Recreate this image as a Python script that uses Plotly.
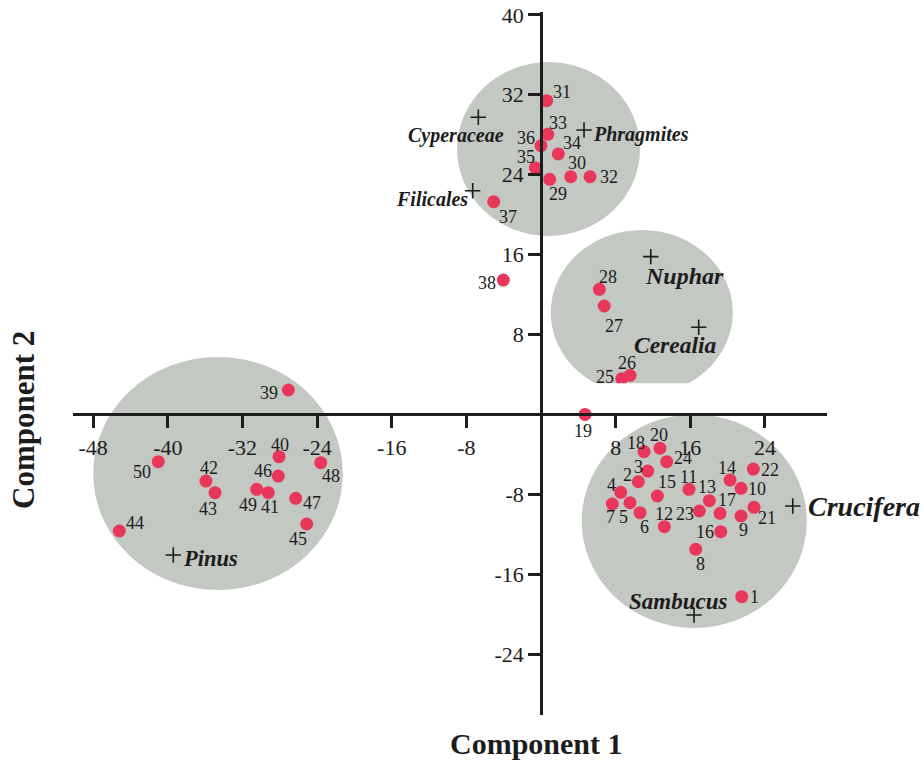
import plotly.graph_objects as go

# Sample scores on the first two principal components
sample_ids = list(range(1, 51))
comp1 = [21.51, 10.43, 11.44, 8.54, 9.54, 10.61, 7.64, 16.58, 21.44, 21.44,
         15.86, 13.22, 18.04, 20.26, 12.47, 19.26, 19.19, 11.04, 4.72, 12.75,
         22.83, 22.75, 16.97, 13.47, 8.65, 9.54, 6.78, 6.25, 0.93, 3.18,
         0.61, 5.25, 0.72, 1.85, -0.61, 0.0, -5.07, -4.04, -27.08, -28.08,
         -29.23, -35.91, -34.94, -45.20, -25.11, -28.16, -26.29, -23.61, -30.47, -41.02]
comp2 = [-18.25, -6.74, -5.67, -7.80, -8.84, -9.84, -8.97, -13.50, -10.17, -7.40,
         -7.50, -11.24, -8.64, -6.57, -8.17, -11.74, -9.90, -3.73, 0.0, -3.39,
         -9.30, -5.47, -9.67, -4.73, 3.57, 3.91, 10.85, 12.52, 23.53, 23.79,
         31.40, 23.79, 28.04, 26.07, 24.69, 26.90, 21.29, 13.45, 2.44, -4.23,
         -7.84, -6.67, -7.84, -11.67, -10.97, -6.17, -8.40, -4.83, -7.50, -4.73]

# Pollen taxa loadings
taxa = ["Cyperaceae", "Phragmites", "Filicales", "Nuphar", "Cerealia",
        "Pinus", "Sambucus", "Crucifera"]
taxa_c1 = [-6.72, 4.61, -7.32, 11.76, 16.90, -39.41, 16.40, 26.98]
taxa_c2 = [29.74, 28.47, 22.39, 15.79, 8.72, -14.07, -20.08, -9.17]

x_ticks = [-48, -40, -32, -24, -16, -8, 8, 16, 24]
y_ticks = [40, 32, 24, 16, 8, -8, -16, -24]

# ---- styling -------------------------------------------------------------
SERIF = "Liberation Serif, Times New Roman, serif"
INK = "#1c1c1c"
RED = "#e8375b"
GREY = "#c3c8c2"

# label placement relative to each sample point (pixels: right, down)
label_offsets = {
    1: (12.6, 0), 2: (-11, -6.7), 3: (-9.4, -4.3), 4: (-9.7, -7.3), 5: (-6.7, 14.6),
    6: (4.3, 14), 7: (-2.3, 12.7), 8: (5, 14.7), 9: (2.3, 14), 10: (15.7, 1),
    11: (-0.7, -12.6), 12: (-0.3, -12.7), 13: (-2.6, -13.4), 14: (-3.3, -11.7),
    15: (9.4, -14.3), 16: (-15.7, 0), 17: (6.7, -13.3), 18: (-8, -9), 19: (-1.7, 16.7),
    20: (-0.7, -13.3), 21: (12.7, 11), 22: (16.7, 1), 23: (-14.3, 3.3), 24: (16.6, -3.4),
    25: (-16.7, -2), 26: (-2.7, -12.6), 27: (9.7, 20), 28: (9, -12.6), 29: (8.6, 14.7),
    30: (6, -13.4), 31: (15, -9), 32: (19.3, 0.6), 33: (10.6, -11), 34: (14, -10.7),
    35: (-9.6, -11), 36: (-15.3, -7.4), 37: (14.6, 15), 38: (-16.6, 3.3), 39: (-19, 3.3),
    40: (1, -11.7), 41: (1.7, 14), 42: (3.3, -12.7), 43: (-6.7, 16.6), 44: (15.7, -7.7),
    45: (-9, 15.3), 46: (-15.6, -5.3), 47: (16.6, 4.4), 48: (10, 13.3), 49: (-9, 15.7),
    50: (-16.6, 10),
}

# taxon name placement relative to its "+" (pixels: right, down) and font size
taxa_text = {
    "Cyperaceae": (-22.5, 17.7, 20), "Phragmites": (56.8, 5, 20),
    "Filicales": (-40.7, 8.6, 20), "Nuphar": (33.5, 19.3, 24),
    "Cerealia": (-24, 17.7, 23.5), "Pinus": (37.5, 3.3, 22.5),
    "Sambucus": (-16.5, -13.3, 23), "Crucifera": (71, 0, 28),
}

# sample group envelopes (x0, x1, y0, y1)
envelopes = [
    (-9.0, 10.61, 17.86, 35.27),
    (1.04, 20.55, 1.94, 18.46),
    (-47.99, -21.25, -17.58, 5.75),
    (4.36, 28.48, -21.38, 0.0),
]

X_RANGE = [-50.16, 30.65]
Y_RANGE = [-30.09, 40.28]

fig = go.Figure()

fig.add_trace(go.Scatter(
    x=comp1, y=comp2, mode="markers",
    marker=dict(size=13, color=RED, line=dict(width=0)),
    cliponaxis=False, hoverinfo="skip", showlegend=False,
))

fig.add_trace(go.Scatter(
    x=taxa_c1, y=taxa_c2, mode="markers",
    marker=dict(symbol="cross-thin", size=11, line=dict(width=1.6, color=INK)),
    cliponaxis=False, hoverinfo="skip", showlegend=False,
))

shapes = []
for x0, x1, y0, y1 in envelopes:
    shapes.append(dict(type="circle", xref="x", yref="y", x0=x0, x1=x1, y0=y0, y1=y1,
                       fillcolor=GREY, line=dict(width=0), layer="below"))
# white strip trimming the lower edge of the Nuphar/Cerealia envelope
shapes.append(dict(type="rect", xref="x", yref="y", x0=1.0, x1=15.65, y0=1.2, y1=3.11,
                   fillcolor="white", line=dict(width=0), layer="above"))

annotations = []
for sid, cx, cy in zip(sample_ids, comp1, comp2):
    dx, dy = label_offsets[sid]
    annotations.append(dict(x=cx, y=cy, xref="x", yref="y", text=str(sid),
                            showarrow=False, xanchor="center", yanchor="middle",
                            xshift=dx, yshift=-dy,
                            font=dict(family=SERIF, size=18, color=INK)))

for name, cx, cy in zip(taxa, taxa_c1, taxa_c2):
    dx, dy, fs = taxa_text[name]
    annotations.append(dict(x=cx, y=cy, xref="x", yref="y",
                            text=f"<b><i>{name}</i></b>",
                            showarrow=False, xanchor="center", yanchor="middle",
                            xshift=dx, yshift=-dy,
                            font=dict(family=SERIF, size=fs, color=INK)))

# axis titles
W, H = 923, 762
ML, MR, MT, MB = 73, 96, 12, 47
pw, ph = W - ML - MR, H - MT - MB


def paper_x(px):
    return (px - ML) / pw


def paper_y(py):
    return (H - MB - py) / ph


annotations.append(dict(x=paper_x(536), y=paper_y(743), xref="paper", yref="paper",
                        text="<b>Component 1</b>", showarrow=False,
                        xanchor="center", yanchor="middle",
                        font=dict(family=SERIF, size=30, color=INK)))
annotations.append(dict(x=paper_x(23), y=paper_y(420), xref="paper", yref="paper",
                        text="<b>Component 2</b>", showarrow=False, textangle=-90,
                        xanchor="center", yanchor="middle",
                        font=dict(family=SERIF, size=31, color=INK)))

axis_common = dict(showgrid=False, zeroline=False, showline=True, linecolor=INK,
                   linewidth=2.5, ticks="outside", ticklen=12, tickwidth=2.5,
                   tickcolor=INK, anchor="free", automargin=False,
                   tickfont=dict(family=SERIF, size=22, color=INK))

fig.update_layout(
    width=W, height=H,
    margin=dict(l=ML, r=MR, t=MT, b=MB, pad=0),
    paper_bgcolor="white", plot_bgcolor="white",
    showlegend=False,
    shapes=shapes, annotations=annotations,
    xaxis=dict(range=X_RANGE, tickvals=x_ticks, ticktext=[str(v) for v in x_ticks],
               position=(0 - Y_RANGE[0]) / (Y_RANGE[1] - Y_RANGE[0]), **axis_common),
    yaxis=dict(range=Y_RANGE, tickvals=y_ticks, ticktext=[str(v) for v in y_ticks],
               position=(0 - X_RANGE[0]) / (X_RANGE[1] - X_RANGE[0]), **axis_common),
)

fig.write_html("out.html")
